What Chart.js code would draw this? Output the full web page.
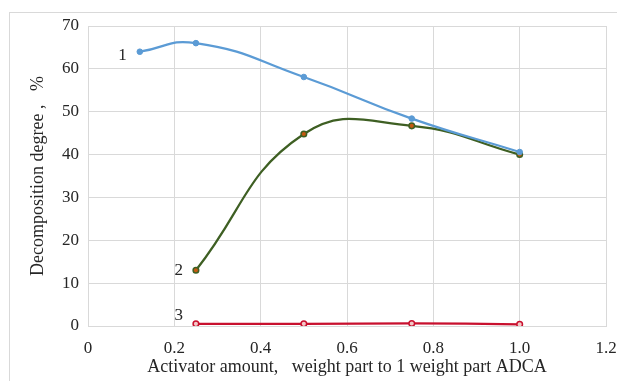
<!DOCTYPE html>
<html>
<head>
<meta charset="utf-8">
<script src="https://cdn.jsdelivr.net/npm/chart.js@4"></script>
<style>
  html, body { margin: 0; padding: 0; background: #ffffff; }
  #wrap { width: 617px; height: 381px; position: relative; }
</style>
</head>
<body>
<div id="wrap"><canvas id="c" width="617" height="381"></canvas></div>
<script>
// ---- Data ----
const xTickLabels = ['0', '0.2', '0.4', '0.6', '0.8', '1.0', '1.2'];
const series1X = [0.12, 0.25, 0.5, 0.75, 1.0];
const series1Y = [64.0, 66.0, 58.1, 48.4, 40.6];
const series2X = [0.25, 0.5, 0.75, 1.0];
const series2Y = [13.0, 44.8, 46.7, 40.0];
const series3X = [0.25, 0.5, 0.75, 1.0];
const series3Y = [0.5, 0.5, 0.6, 0.4];
const curveLabels = ['1', '2', '3'];
const curveLabelX = [0.08, 0.21, 0.21];
const curveLabelY = [63.2, 13.0, 2.4];

const toPts = (xs, ys) => xs.map((x, i) => ({ x: x, y: ys[i] }));

const serif = '"Liberation Serif", "Times New Roman", serif';
const textColor = '#262626';

const frame = {
  id: 'frame',
  beforeDraw(chart) {
    const ctx = chart.ctx;
    ctx.save();
    ctx.fillStyle = '#ffffff';
    ctx.fillRect(0, 0, chart.width, chart.height);
    ctx.strokeStyle = '#d9d9d9';
    ctx.lineWidth = 1;
    ctx.strokeRect(9.5, 12.5, chart.width, chart.height);
    ctx.restore();
  }
};

const curveText = {
  id: 'curveText',
  afterDatasetsDraw(chart) {
    const ctx = chart.ctx;
    const xs = chart.scales.x, ys = chart.scales.y;
    ctx.save();
    ctx.font = '17px ' + serif;
    ctx.fillStyle = textColor;
    ctx.textAlign = 'center';
    ctx.textBaseline = 'middle';
    curveLabels.forEach((t, i) => {
      ctx.fillText(t, xs.getPixelForValue(curveLabelX[i]), ys.getPixelForValue(curveLabelY[i]));
    });
    ctx.restore();
  }
};

new Chart(document.getElementById('c'), {
  type: 'scatter',
  data: {
    datasets: [
      {
        label: '1',
        data: toPts(series1X, series1Y),
        showLine: true,
        borderColor: '#5b9bd5',
        backgroundColor: '#5b9bd5',
        borderWidth: 2.25,
        pointRadius: 2.8,
        pointBorderWidth: 1,
        pointBorderColor: '#5b9bd5',
        pointBackgroundColor: '#5b9bd5',
        tension: 0.5
      },
      {
        label: '2',
        data: toPts(series2X, series2Y),
        showLine: true,
        borderColor: '#3e5f23',
        backgroundColor: '#c55a11',
        borderWidth: 2.25,
        pointRadius: 2.8,
        pointBorderWidth: 1.5,
        pointBorderColor: '#3e5f23',
        pointBackgroundColor: '#c55a11',
        tension: 0.45
      },
      {
        label: '3',
        data: toPts(series3X, series3Y),
        showLine: true,
        borderColor: '#c8102e',
        backgroundColor: '#f4c7c7',
        borderWidth: 2.25,
        pointRadius: 2.8,
        pointBorderWidth: 1.5,
        pointBorderColor: '#c8102e',
        pointBackgroundColor: '#f4c7c7',
        tension: 0.5
      }
    ]
  },
  options: {
    responsive: false,
    animation: false,
    layout: { padding: { top: 26, right: 11, bottom: 0, left: 0 } },
    plugins: {
      legend: { display: false },
      tooltip: { enabled: false }
    },
    scales: {
      x: {
        type: 'linear',
        min: 0,
        max: 1.2,
        afterBuildTicks(scale) {
          scale.ticks = xTickLabels.map(v => ({ value: parseFloat(v) }));
        },
        afterFit(scale) {
          scale.height = 55;
          scale.paddingLeft = 0;
          scale.paddingRight = 0;
        },
        grid: { color: '#d9d9d9', lineWidth: 1, drawTicks: false },
        border: { color: '#d9d9d9' },
        ticks: {
          padding: 12,
          color: textColor,
          font: { family: serif, size: 17 },
          callback: (v, i) => xTickLabels[i]
        },
        title: {
          display: true,
          text: 'Activator amount,   weight part to 1 weight part ADCA',
          color: textColor,
          font: { family: serif, size: 18 },
          padding: { top: 0, bottom: 3 }
        }
      },
      y: {
        type: 'linear',
        min: 0,
        max: 70,
        afterFit(scale) {
          scale.width = 88;
          scale.paddingTop = 0;
          scale.paddingBottom = 0;
        },
        grid: { color: '#d9d9d9', lineWidth: 1, drawTicks: false },
        border: { color: '#d9d9d9' },
        ticks: {
          stepSize: 10,
          padding: 9,
          color: textColor,
          font: { family: serif, size: 17 }
        },
        title: {
          display: true,
          text: 'Decomposition degree ,   %',
          color: textColor,
          font: { family: serif, size: 18 },
          padding: { top: 27, bottom: 0 }
        }
      }
    }
  },
  plugins: [frame, curveText]
});
</script>
</body>
</html>
